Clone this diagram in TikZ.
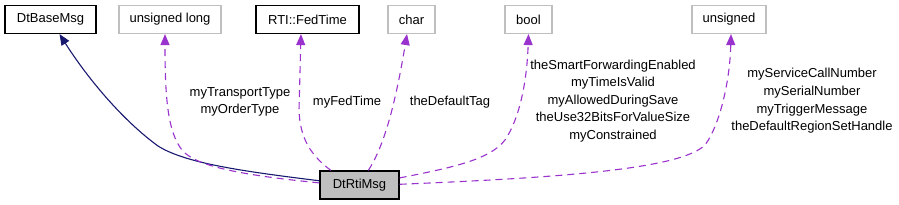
\documentclass[tikz,border=0pt]{standalone}
\usepackage{fontspec}
\setmainfont{Liberation Sans}
\usepackage{tikz}
\usetikzlibrary{arrows.meta}
\definecolor{UseEdge}{RGB}{154,50,205}
\definecolor{InhEdge}{RGB}{25,25,112}
\definecolor{BoxGray}{RGB}{191,191,191}

\begin{document}
\begin{tikzpicture}[x=1pt,y=-1pt, every node/.style={font=\fontsize{13}{17.6}\selectfont,align=center},
cls/.style={draw=black,line width=1.2pt,minimum height=28pt,inner xsep=0pt,inner ysep=0pt},
ext/.style={draw=BoxGray,line width=1.2pt,minimum height=28pt,inner xsep=0pt,inner ysep=0pt},
lbl/.style={inner sep=0pt},
uses/.style={UseEdge,line width=1.1pt,dash pattern=on 7pt off 5pt,-{Triangle[length=11pt,width=9pt]}},
inherits/.style={InhEdge,line width=1.1pt,-{Triangle[length=11pt,width=9pt]}}]
\useasboundingbox (0,0) rectangle (899,205);
\node[cls, minimum width=91pt] (base) at (50.5,19.5) {DtBaseMsg};
\node[ext, minimum width=102pt] (ulong) at (170,19.5) {unsigned long};
\node[cls, minimum width=103pt] (fedtime) at (307.5,19.5) {RTI::FedTime};
\node[ext, minimum width=47pt] (chr) at (411.5,19.5) {char};
\node[ext, minimum width=47pt] (bool) at (528.5,19.5) {bool};
\node[ext, minimum width=74pt] (unsgn) at (729,19.5) {unsigned};
\node[cls, minimum width=79pt, fill=BoxGray] (rtimsg) at (359.5,185) {DtRtiMsg};
% member labels
\node[lbl] (lulong) at (240,102) {myTransportType\\myOrderType};
\node[lbl] (lfed) at (347,102) {myFedTime};
\node[lbl] (lchr) at (450,102) {theDefaultTag};
\node[lbl] (lbool) at (613,101) {theSmartForwardingEnabled\\myTimeIsValid\\myAllowedDuringSave\\theUse32BitsForValueSize\\myConstrained};
\node[lbl] (lunsgn) at (812,101) {myServiceCallNumber\\mySerialNumber\\myTriggerMessage\\theDefaultRegionSetHandle};
% edges
\draw[inherits] (rtimsg.174) .. controls (240,171) and (185,163) .. (158,146)
  .. controls (125,122) and (90,82) .. ([xshift=9pt]base.south);
\draw[uses] (rtimsg.177) .. controls (240,175) and (195,166) .. (182,150)
  .. controls (168,132) and (165,100) .. ([xshift=-5pt]ulong.south);
\draw[uses] (rtimsg.153) .. controls (312,156) and (300,140) .. (299,110)
  -- ([xshift=-6.5pt]fedtime.south);
\draw[uses] (rtimsg.59) .. controls (385,145) and (396,100) .. ([xshift=-4.5pt]chr.south);
\draw[uses] (rtimsg.10) .. controls (450,168) and (490,160) .. (505,140)
  .. controls (520,118) and (527,80) .. (bool.south);
\draw[uses] (rtimsg.1.5) .. controls (550,178) and (680,170) .. (705,145)
  .. controls (720,125) and (730,80) .. ([xshift=2pt]unsgn.south);
\end{tikzpicture}
\end{document}
